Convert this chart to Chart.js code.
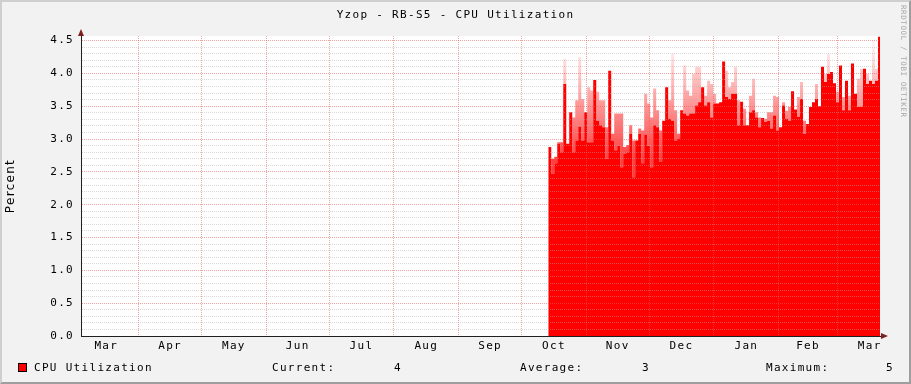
<!DOCTYPE html>
<html><head><meta charset="utf-8">
<script src="https://cdn.jsdelivr.net/npm/chart.js@4.4.1/dist/chart.umd.min.js"></script>
<style>
html,body{margin:0;padding:0;}
body{width:911px;height:384px;overflow:hidden;background:#f2f2f2;position:relative;font-family:"DejaVu Sans Mono",monospace;}
#frame{position:absolute;left:0;top:0;width:911px;height:384px;box-sizing:border-box;border-left:2px solid #cfcfcf;border-top:2px solid #cfcfcf;border-right:2px solid #9e9e9e;border-bottom:2px solid #9e9e9e;pointer-events:none;z-index:5}
canvas{position:absolute;left:0;top:0;}
.t{position:absolute;font-size:11px;letter-spacing:1.3px;color:#000;white-space:pre;line-height:11px}
#wm{position:absolute;left:899px;top:5px;font-size:7.5px;letter-spacing:0.6px;color:#a8a8a8;writing-mode:vertical-rl;white-space:pre;line-height:8px}
.box{position:absolute;left:18px;top:363px;width:9px;height:9px;box-sizing:border-box;border:1px solid #000;background:#ff0000}
.arrowUp{position:absolute;left:78px;top:29px;width:0;height:0;border-left:3px solid transparent;border-right:3px solid transparent;border-bottom:7px solid #801f1f}
.arrowRight{position:absolute;left:881px;top:333px;width:0;height:0;border-top:3px solid transparent;border-bottom:3px solid transparent;border-left:7px solid #801f1f}
</style></head>
<body>
<canvas id="c" width="911" height="384"></canvas>
<div class="t" style="left:0;width:911px;text-align:center;top:9px">Yzop - RB-S5 - CPU Utilization</div>
<div id="wm">RRDTOOL / TOBI OETIKER</div>
<div class="arrowUp"></div>
<div class="arrowRight"></div>
<div class="box"></div>
<div id="legend"></div>
<div id="frame"></div>
<script>
// ---- data ----
const seriesName = 'CPU Utilization';
const monthNames = ['Mar','Apr','May','Jun','Jul','Aug','Sep','Oct','Nov','Dec','Jan','Feb','Mar'];
// day offsets (from 1 Mar of first year) of month starts
const monthStarts = [0,31,61,92,122,153,184,214,245,275,306,337,365,396];
const axisStartDay = 3.4, axisEndDay = 385.4;
const dataStartDay = 226.8, dataStepDays = 1.433;
// solid (average) values, percent
const cpu = [
 2.88,2.47,2.63,2.93,2.80,3.84,2.93,3.41,2.80,2.98,3.19,2.98,3.41,2.95,2.95,3.90,3.28,3.21,3.18,2.70,4.04,2.98,2.83,2.90,2.57,2.78,2.80,3.08,
 2.42,2.98,3.08,2.63,3.06,2.90,2.57,3.21,3.18,2.65,3.28,3.79,3.31,3.28,2.98,3.01,3.44,3.39,3.36,3.39,3.39,3.51,3.56,3.79,3.51,3.56,
 3.33,3.54,3.54,3.56,4.18,3.64,3.61,3.69,3.69,3.21,3.57,3.21,3.21,3.41,3.44,3.33,3.18,3.32,3.26,3.28,3.16,3.36,3.13,3.18,3.51,3.31,3.28,3.73,3.45,
 3.34,3.61,3.08,3.23,3.49,3.56,3.61,3.50,4.10,3.87,3.99,4.02,3.85,3.56,4.12,3.44,3.89,3.44,4.15,3.69,3.49,3.49,4.07,3.84,3.89,3.84,3.89,4.56,3.89
];
// faded peaks above the solid area
const cpuPeak = [
 2.88,2.70,2.73,2.95,2.95,4.22,2.93,3.41,3.33,3.59,4.25,3.61,3.41,3.79,3.74,3.90,3.72,3.59,3.59,3.18,4.04,3.08,3.39,3.39,3.39,2.88,2.91,3.21,
 2.98,2.98,3.16,3.13,3.69,3.54,3.33,3.77,3.44,3.13,3.28,3.79,3.59,4.30,3.44,3.08,3.44,4.12,3.74,3.66,3.99,4.10,4.10,3.79,3.66,3.89,
 3.84,3.69,3.54,3.56,4.18,4.04,3.79,3.87,4.10,3.59,3.57,3.46,3.21,3.66,3.92,3.41,3.33,3.32,3.31,3.41,3.41,3.66,3.64,3.18,3.56,3.43,3.49,3.73,3.45,
 3.64,3.87,3.28,3.23,3.49,3.56,3.84,3.50,4.10,3.99,4.30,4.02,3.85,3.72,4.12,3.64,3.89,3.66,4.15,3.69,3.92,4.07,4.07,3.99,3.89,4.51,4.07,4.56,3.89
];
const yMax = 4.57;
const statLabels = ['Current:','Average:','Maximum:'];
const statValues = ['4','3','5'];

// ---- legend text ----
const lg = document.getElementById('legend');
function addText(txt, left){ const d=document.createElement('div'); d.className='t'; d.style.left=left+'px'; d.style.top='362px'; d.textContent=txt; lg.appendChild(d); }
addText(seriesName, 34);
const statLabelX=[272,520,766], statValueX=[394,642,886];
statLabels.forEach((s,i)=>{ addText(s, statLabelX[i]); addText(statValues[i], statValueX[i]); });

// ---- chart ----
const toPts = arr => arr.map((v,i)=>({x: dataStartDay + i*dataStepDays, y: v}));
const mids = monthNames.map((n,k)=>({value:(monthStarts[k]+monthStarts[k+1])/2, lab:n}));
const bounds = monthStarts.slice(1,13).map(v=>({value:v, lab:''}));

const MAJOR = 'rgba(225,90,90,0.55)';
const MINOR = 'rgba(170,170,170,0.45)';
const NONE = 'rgba(0,0,0,0)';

const spacing = {id:'spacing', beforeDraw(chart){ chart.ctx.letterSpacing='1.3px'; }};
const areaBg = {id:'areaBg', beforeDraw(chart){ const {ctx, chartArea:a}=chart; ctx.save(); ctx.fillStyle='#ffffff'; ctx.fillRect(a.left,a.top,a.right-a.left,a.bottom-a.top); ctx.restore(); }};

new Chart(document.getElementById('c'), {
  type:'line',
  data:{datasets:[
    {label:seriesName, data:toPts(cpu), stepped:true, fill:'origin', backgroundColor:'#ff0000', borderColor:NONE, borderWidth:0, pointRadius:0},
    {label:'peak', data:toPts(cpuPeak), stepped:true, fill:'-1', borderColor:NONE, borderWidth:0, pointRadius:0,
     backgroundColor:(ctx)=>{ const ch=ctx.chart; if(!ch.chartArea) return 'rgba(255,0,0,0.4)';
       const y=ch.scales.y; const g=ch.ctx.createLinearGradient(0,y.getPixelForValue(4.4),0,y.getPixelForValue(2.7));
       g.addColorStop(0,'rgba(255,0,0,0.05)'); g.addColorStop(1,'rgba(255,0,0,0.75)'); return g; }}
  ]},
  options:{
    responsive:false, animation:false, events:[],
    layout:{padding:{left:0,top:36,right:31,bottom:0}},
    plugins:{legend:{display:false}, tooltip:{enabled:false}, title:{display:false}},
    scales:{
      x:{type:'linear', min:axisStartDay, max:axisEndDay,
        afterBuildTicks:(s)=>{ s.ticks = bounds.concat(mids).sort((a,b)=>a.value-b.value); },
        afterFit:(s)=>{ s.height=48; },
        ticks:{autoSkip:false, maxRotation:0, minRotation:0, padding:4, color:'#000',
          font:{family:'DejaVu Sans Mono', size:11},
          callback:(v,i,t)=>t[i].lab},
        grid:{z:1, drawTicks:false, lineWidth:1, color:(c)=> (c.tick && c.tick.lab==='') ? MAJOR : NONE},
        border:{z:2, color:'rgb(31,31,31)', width:1, dash:[1,1]}
      },
      y:{type:'linear', min:0, max:yMax,
        afterBuildTicks:(s)=>{ const t=[]; for(let i=0;i<=45;i++) t.push({value:i/10}); s.ticks=t; },
        afterFit:(s)=>{ s.width=81; },
        title:{display:true, text:'Percent', color:'#000', font:{family:'DejaVu Sans', size:12}},
        ticks:{autoSkip:false, padding:7, color:'#000', font:{family:'DejaVu Sans Mono', size:11},
          callback:(v)=>{ const k=Math.round(v*10); return k%5===0 ? (k/10).toFixed(1) : ''; }},
        grid:{z:1, drawTicks:false, lineWidth:1, color:(c)=>{ const k=Math.round(c.tick.value*10); return k%5===0 ? MAJOR : MINOR; }},
        border:{z:2, color:'rgb(31,31,31)', width:1, dash:[1,1]}
      }
    }
  },
  plugins:[spacing, areaBg]
});
</script>
</body></html>
